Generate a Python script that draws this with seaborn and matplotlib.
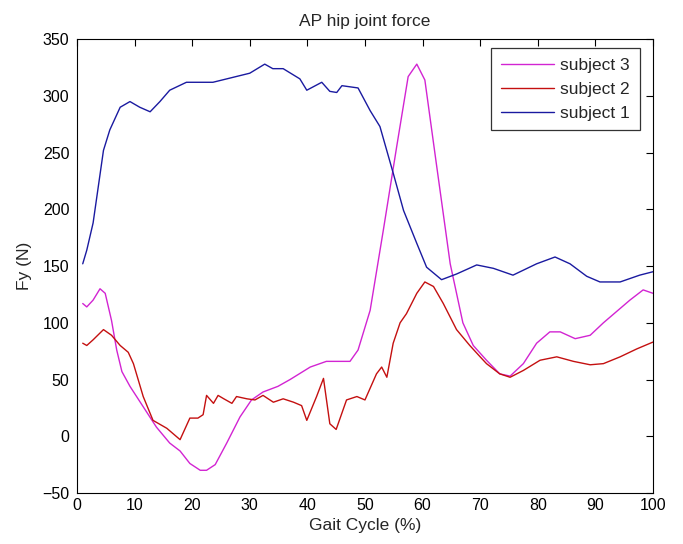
import numpy as np
import pandas as pd
import matplotlib
matplotlib.use('Agg')
import matplotlib.pyplot as plt
import seaborn as sns

# gait cycle (%) and force values
x1 = [1, 1.7, 2.8, 3.7, 4.6, 5.7, 7.5, 9.2, 10.9, 12.7, 14.4, 16.1, 19, 23.6, 26, 30, 32.6, 34,
      35.8, 38.7, 39.9, 42.5, 43.9, 45.1, 46, 48.8, 50.9, 52.6, 54.9, 56.7, 59, 60.7, 63.3, 65.9,
      69.4, 72.3, 75.7, 79.8, 83, 85.6, 88.5, 90.8, 94.3, 97.7, 100]
y1 = [152, 164, 188, 220, 252, 270, 290, 295, 290, 286, 295, 305, 312, 312, 315, 320, 328, 324,
      324, 315, 305, 312, 304, 303, 309, 307, 287, 273, 232, 199, 170, 149, 138, 143,
      151, 148, 142, 152, 158, 152, 141, 136, 136, 142, 145]

x2 = [1, 1.7, 2.8, 4.6, 6, 7.5, 8.9, 9.8, 11.5, 13.2, 15.6, 17.9, 19.6, 21, 21.9, 22.5, 23.7, 24.5,
      25.5, 26.9, 27.7, 29.5, 30.9, 32.3, 34.1, 35.8, 37.6, 39, 39.9, 41.6, 42.8, 43.9, 45, 46.8,
      48.6, 50, 52, 52.9, 53.8, 54.9, 56.1, 57.2, 59, 60.4, 61.9, 63.6, 65.9, 68.2, 70, 71.1,
      73.4, 75.2, 77.5, 80.4, 83.3, 86.2, 89.1, 91.4, 94.3, 97.2, 100]
y2 = [82, 80, 85, 94, 89, 80, 74, 64, 35, 14, 7, -3, 16, 16, 19, 36, 29, 36,
      33, 29, 35, 33, 32, 36, 30, 33, 30, 27, 14, 35, 51, 11, 6, 32,
      35, 32, 55, 61, 52, 82, 100, 108, 126, 136, 132, 117, 94, 80, 70, 64,
      55, 52, 58, 67, 70, 66, 63, 64, 70, 77, 83]

x3 = [1, 1.7, 2.8, 4, 4.9, 6, 6.9, 7.8, 9.2, 11.5, 13.8, 16.1, 17.9, 19.6, 21.4, 22.5, 24, 26,
      28.3, 30.3, 32.3, 34.9, 37, 40.5, 43.3, 47.4, 48.8, 50.9, 53.2, 55.5, 57.5, 59, 60.4,
      62.4, 64.8, 67, 68.8, 71.1, 73.4, 75.2, 77.5, 79.8, 82.1, 83.9, 86.5, 89.1, 91.4, 93.7,
      96, 98.3, 100]
y3 = [117, 114, 120, 130, 126, 102, 76, 57, 44, 26, 8, -6, -13, -24, -30, -30, -25, -6,
      17, 32, 39, 44, 50, 61, 66, 66, 76, 111, 182, 255, 317, 328, 314,
      240, 152, 100, 80, 67, 55, 53, 64, 82, 92, 92, 86, 89, 100, 110,
      120, 129, 126]

labels = ['subject 3', 'subject 2', 'subject 1']
colors = ['#d224d2', '#c41010', '#1a1aa0']

df = pd.concat([
    pd.DataFrame({'x': x3, 'y': y3, 'subject': 'subject 3'}),
    pd.DataFrame({'x': x2, 'y': y2, 'subject': 'subject 2'}),
    pd.DataFrame({'x': x1, 'y': y1, 'subject': 'subject 1'}),
])

sns.set_style('white')
plt.rcParams['font.family'] = ['Liberation Sans', 'DejaVu Sans']

fig = plt.figure(figsize=(6.83, 5.44), dpi=100)
ax = fig.add_axes([0.1127, 0.0938, 0.8433, 0.8342])
sns.lineplot(data=df, x='x', y='y', hue='subject', hue_order=labels,
             palette=dict(zip(labels, colors)), estimator=None, sort=False,
             linewidth=1.0, ax=ax)

ax.set_xlim(0, 100)
ax.set_ylim(-50, 350)
ax.set_xticks(np.arange(0, 101, 10))
ax.set_yticks(np.arange(-50, 351, 50))
ax.tick_params(direction='in', top=True, right=True, length=5, width=0.8,
               labelsize=11.5, colors='black')
ax.tick_params(axis='y', pad=5.5)
ax.tick_params(axis='x', pad=3.5)
for s in ax.spines.values():
    s.set_color('black')
    s.set_linewidth(0.8)

ax.set_title('AP hip joint force', fontsize=12.5, pad=9.5)
ax.set_xlabel('Gait Cycle (%)', fontsize=12.5, labelpad=3.5)
ax.set_ylabel('Fy (N)', fontsize=12.5, labelpad=7)

leg = ax.legend(loc='upper right', bbox_to_anchor=(0.977, 0.9795), borderaxespad=0,
                fontsize=12.5, frameon=True, fancybox=False, edgecolor='black',
                handlelength=3.05, handletextpad=0.38, labelspacing=0.5, borderpad=0.55)
leg.get_frame().set_linewidth(0.9)

fig.savefig('out.png', dpi=100)
